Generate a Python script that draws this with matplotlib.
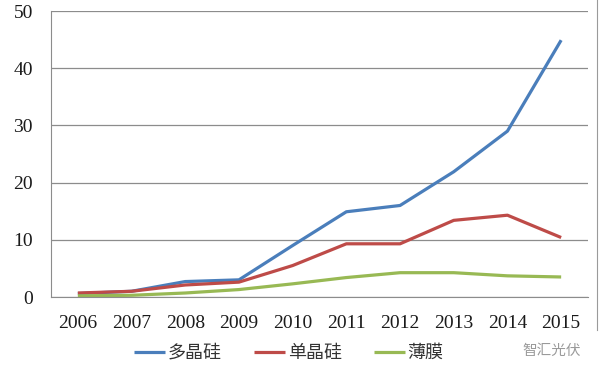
import matplotlib
matplotlib.use('Agg')
import matplotlib.pyplot as plt
from matplotlib.lines import Line2D

# data
years = ['2006', '2007', '2008', '2009', '2010', '2011', '2012', '2013', '2014', '2015']
poly_si = [0.6, 1.0, 2.7, 3.0, 9.0, 14.9, 16.0, 21.9, 29.0, 44.9]
mono_si = [0.7, 1.0, 2.1, 2.6, 5.5, 9.3, 9.3, 13.4, 14.3, 10.4]
thin_film = [0.2, 0.3, 0.7, 1.3, 2.3, 3.4, 4.25, 4.25, 3.7, 3.5]
series_names = ['多晶硅', '单晶硅', '薄膜']
yticks = [0, 10, 20, 30, 40, 50]

colors = ['#4A7EBB', '#BE4B48', '#98B954']
serif = ['Liberation Serif', 'DejaVu Serif']
cjk = ['Noto Sans CJK SC', 'DejaVu Sans']

fig = plt.figure(figsize=(6, 3.71), dpi=100)
ax = fig.add_axes([51/600, 1 - 297/371, (588 - 51)/600, (297 - 11)/371])

x = list(range(len(years)))
for vals, c, name in zip([poly_si, mono_si, thin_film], colors, series_names):
    ax.plot(x, vals, color=c, lw=2.3, label=name, solid_capstyle='butt')

ax.set_xlim(-0.5, len(years) - 0.5)
ax.set_ylim(0, 50)
ax.set_yticks(yticks)
ax.set_xticks(x)
ax.set_xticklabels(years)
ax.yaxis.grid(True, color='#8c8c8c', lw=0.9)
ax.set_axisbelow(True)
ax.tick_params(length=0, labelsize=14, colors='#1a1a1a')
ax.tick_params(axis='y', pad=13)
ax.tick_params(axis='x', pad=13)
for lab in ax.get_xticklabels() + ax.get_yticklabels():
    lab.set_family(serif)

for s in ['top', 'right']:
    ax.spines[s].set_visible(False)
ax.spines['left'].set_color('#8c8c8c')
ax.spines['bottom'].set_color('#8c8c8c')

leg = fig.legend(loc='center', bbox_to_anchor=(289/600, 1 - 353/371), ncol=3,
                 frameon=False, prop={'family': cjk, 'size': 13},
                 handlelength=1.7, handletextpad=0.15, columnspacing=1.8)
for t in leg.get_texts():
    t.set_color('#333333')

# watermark and right border
fig.text(522/600, 1 - 351/371, '智汇光伏', family=cjk, fontsize=10.5,
         color='#9a9a9a', va='center', ha='left')
fig.add_artist(Line2D([597/600, 597/600], [1 - 330/371, 1.0],
                      color='#9a9a9a', lw=0.8, transform=fig.transFigure))

fig.savefig('out.png', dpi=100)
